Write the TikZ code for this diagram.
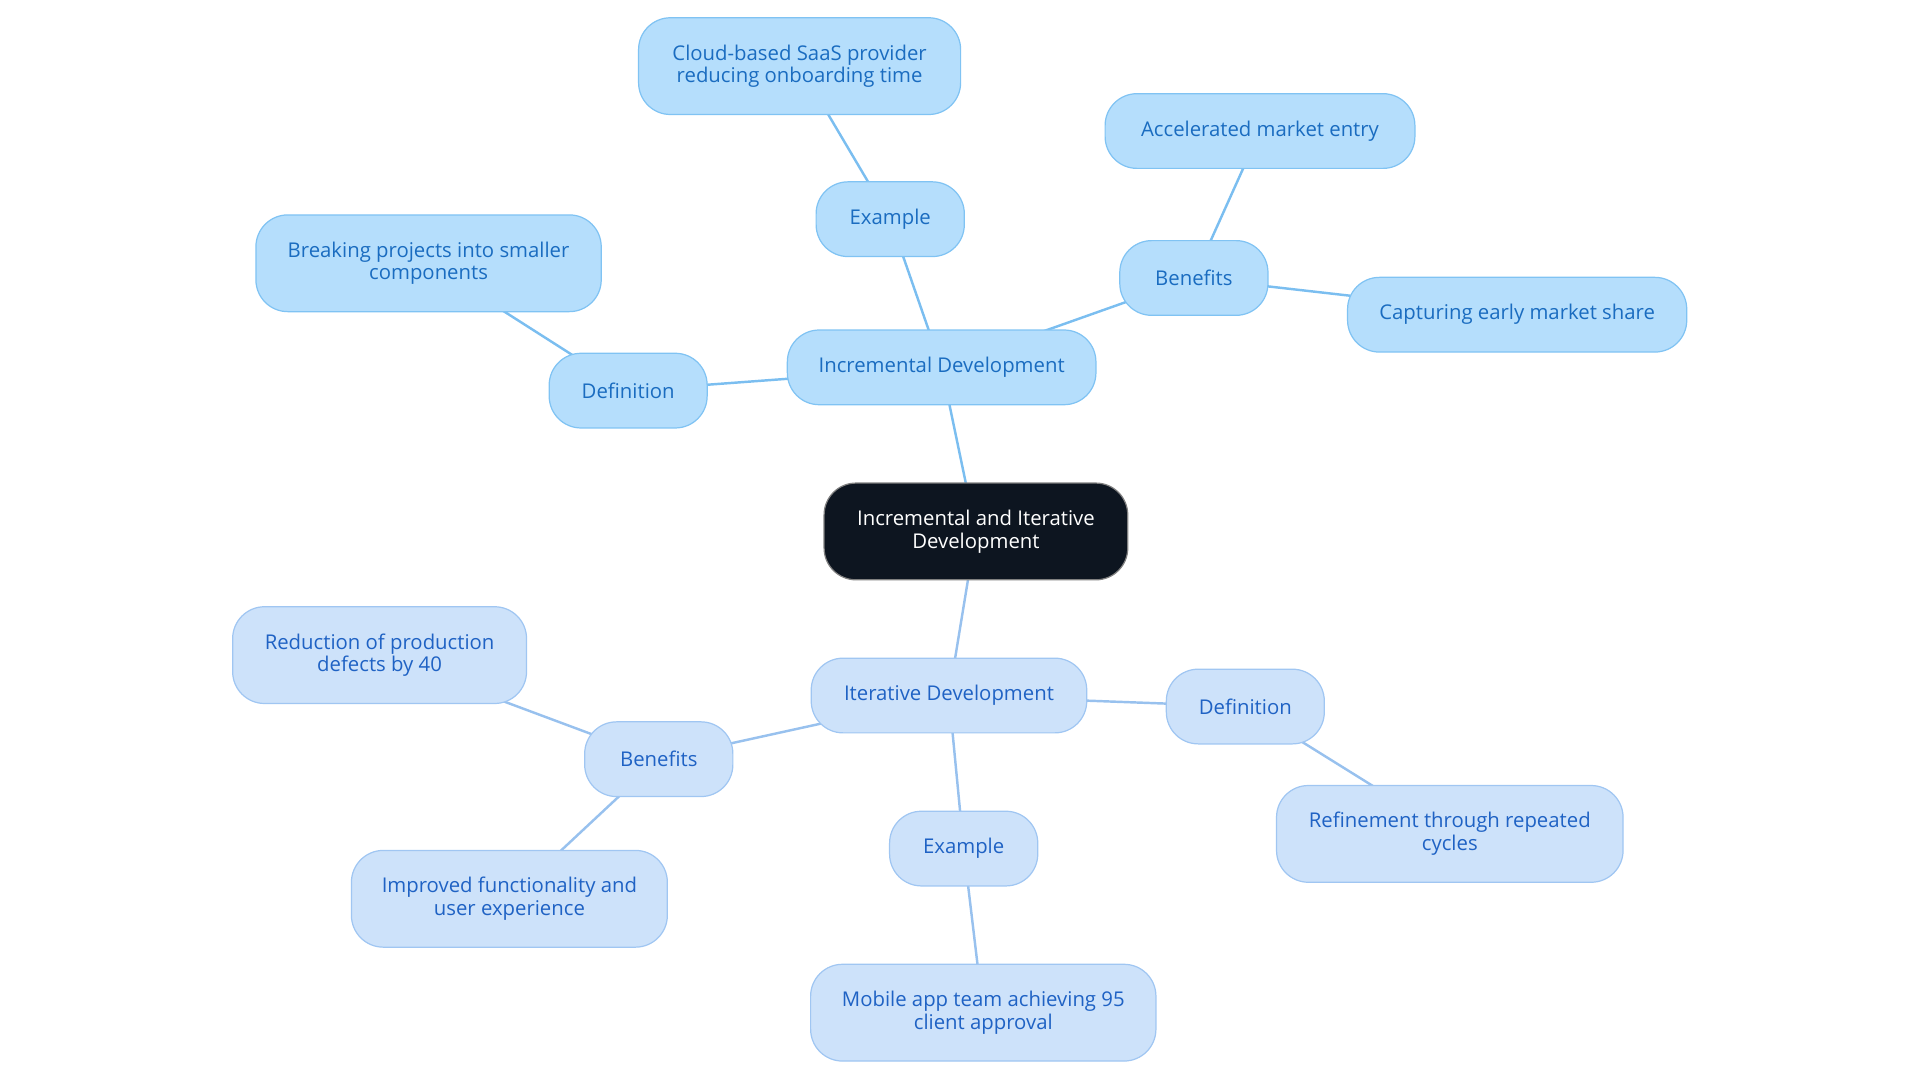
\documentclass[tikz,border=0pt]{standalone}
\usepackage{fontspec}
\setmainfont{Open Sans}
\usetikzlibrary{backgrounds}
\definecolor{tfill}{HTML}{B5DEFC}
\definecolor{tdraw}{HTML}{80C3F3}
\definecolor{ttext}{HTML}{1A6CC0}
\definecolor{bfill}{HTML}{CDE2FA}
\definecolor{bdraw}{HTML}{A0C6F2}
\definecolor{btext}{HTML}{1F62C4}
\definecolor{tline}{HTML}{7BBEF0}
\definecolor{bline}{HTML}{98C1EE}
\definecolor{dark}{HTML}{0D1520}
\tikzset{
 base/.style={rounded corners=13pt, align=center, font=\fontsize{8.3pt}{9.3pt}\selectfont, inner sep=0pt, line width=0.5pt},
 tbox/.style={base, fill=tfill, draw=tdraw, text=ttext},
 bbox/.style={base, fill=bfill, draw=bdraw, text=btext},
 cbox/.style={base, fill=dark, draw=gray, text=white},
 tl/.style={draw=tline, line width=1pt},
 bl/.style={draw=bline, line width=1pt},
}
\newcommand{\bx}[6]{\node[#1, minimum width=#4*0.5pt, minimum height=#5*0.5pt] (#2) at (#3) {#6};}
\begin{document}
\begin{tikzpicture}[x=0.5pt,y=-0.5pt]
\useasboundingbox (0,0) rectangle (1568,884.5);
\bx{cbox}{c}{797,434}{248}{79}{Incremental and Iterative\\Development}
\bx{tbox}{inc}{769,300}{252}{61}{Incremental Development}
\bx{tbox}{ex1}{727,179}{121}{61}{Example}
\bx{tbox}{cloud}{653,54}{263}{79}{Cloud-based SaaS provider\\reducing onboarding time}
\bx{tbox}{ben1}{975,227}{121}{61}{Benefits}
\bx{tbox}{acc}{1029,107}{253}{61}{Accelerated market entry}
\bx{tbox}{cap}{1239,257}{277}{61}{Capturing early market share}
\bx{tbox}{def1}{513,319}{129}{61}{Definition}
\bx{tbox}{brk}{350,215}{282}{79}{Breaking projects into smaller\\components}
\bx{bbox}{it}{775,568}{225}{61}{Iterative Development}
\bx{bbox}{def2}{1017,577}{129}{61}{Definition}
\bx{bbox}{ref}{1184,681}{283}{79}{Refinement through repeated\\cycles}
\bx{bbox}{ex2}{787,693}{121}{61}{Example}
\bx{bbox}{mob}{803,827}{282}{79}{Mobile app team achieving 95\\client approval}
\bx{bbox}{ben2}{538,620}{121}{61}{Benefits}
\bx{bbox}{red}{310,535}{240}{79}{Reduction of production\\defects by 40}
\bx{bbox}{imp}{416,734}{258}{79}{Improved functionality and\\user experience}
\begin{scope}[on background layer]
\draw[tl] (c.center) -- (inc.center);
\draw[tl] (inc.center) -- (ex1.center);
\draw[tl] (ex1.center) -- (cloud.center);
\draw[tl] (inc.center) -- (ben1.center);
\draw[tl] (ben1.center) -- (acc.center);
\draw[tl] (ben1.center) -- (cap.center);
\draw[tl] (inc.center) -- (def1.center);
\draw[tl] (def1.center) -- (brk.center);
\draw[bl] (c.center) -- (it.center);
\draw[bl] (it.center) -- (def2.center);
\draw[bl] (def2.center) -- (ref.center);
\draw[bl] (it.center) -- (ex2.center);
\draw[bl] (ex2.center) -- (mob.center);
\draw[bl] (it.center) -- (ben2.center);
\draw[bl] (ben2.center) -- (red.center);
\draw[bl] (ben2.center) -- (imp.center);
\end{scope}
\end{tikzpicture}
\end{document}
